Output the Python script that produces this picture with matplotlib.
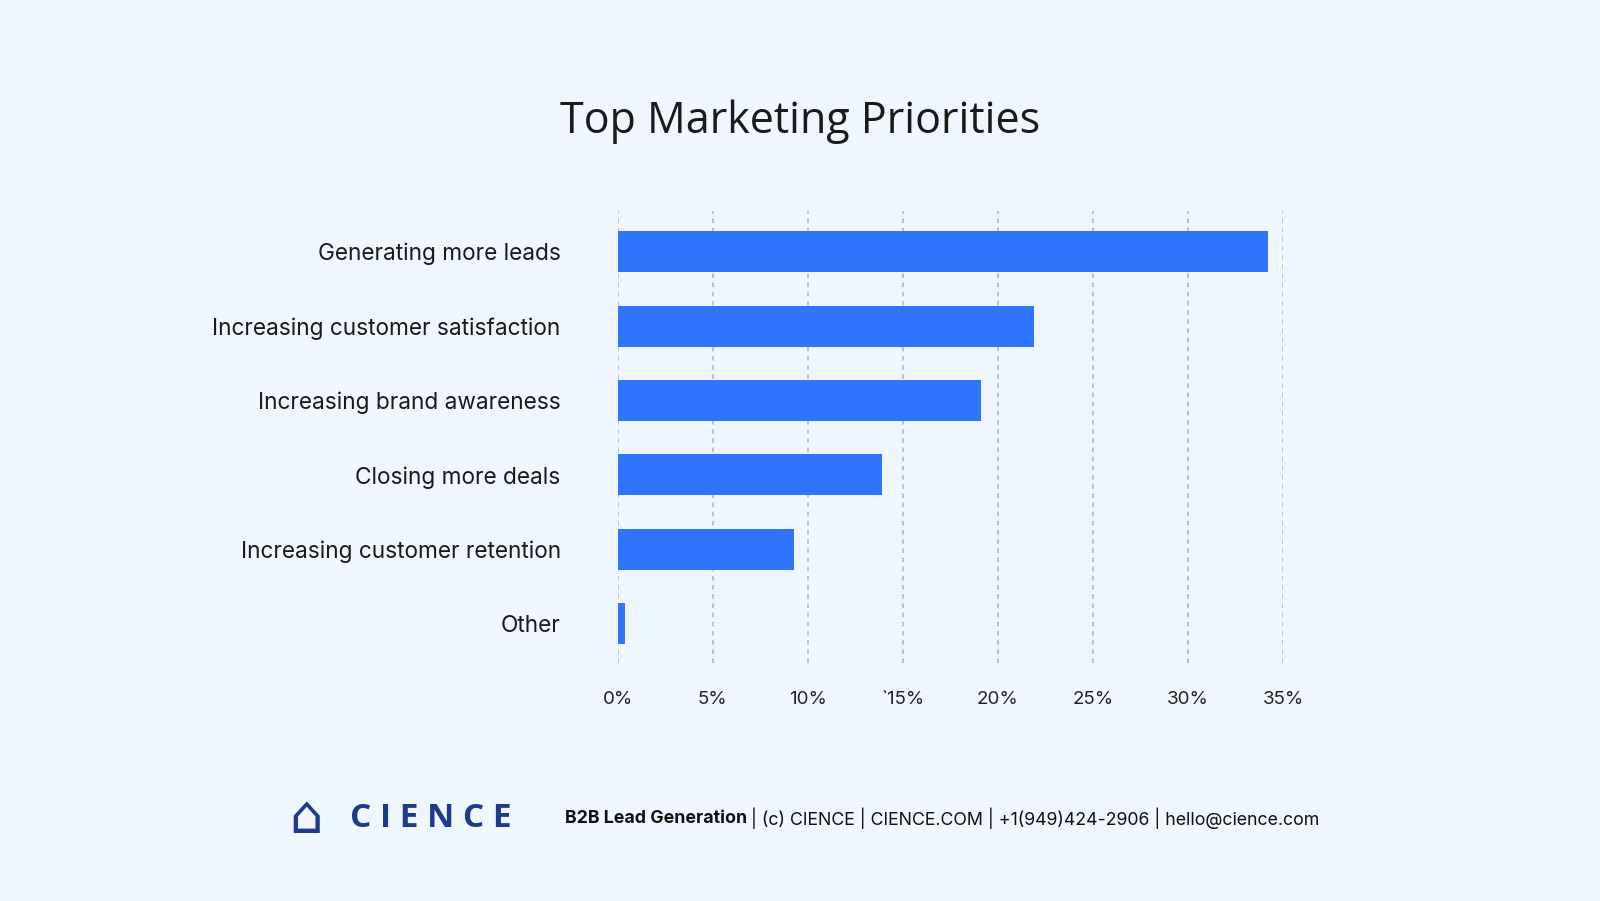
import matplotlib
matplotlib.use("Agg")
import matplotlib.pyplot as plt

categories = ["Generating more leads", "Increasing customer satisfaction", "Increasing brand awareness",
              "Closing more deals", "Increasing customer retention", "Other"]
values = [34.2, 21.9, 19.1, 13.9, 9.3, 0.4]
tick_vals = [0, 5, 10, 15, 20, 25, 30, 35]
tick_labels = ["0%", "5%", "10%", "`15%", "20%", "25%", "30%", "35%"]

bg = "#EFF6FE"
fig = plt.figure(figsize=(16, 9.01), dpi=100, facecolor=bg)
ax = fig.add_axes([0.386, 0.264, 0.416, 0.502], facecolor=bg)
y = list(range(len(categories)))
ax.barh(y, values, height=0.55, color="#2F76FC", zorder=3)
ax.set_ylim(len(categories) - 1 + 0.53, -0.55)
ax.set_xlim(0, 35)
ax.set_xticks(tick_vals)
ax.set_xticklabels(tick_labels, fontsize=13.5, color="#222222", family="Inter")
ax.set_yticks(y)
ax.set_yticklabels(categories, fontsize=16.3, color="#1a1a1a", family="Inter")
ax.tick_params(length=0, axis="y", pad=41)
ax.tick_params(length=0, axis="x", pad=20)
for t in tick_vals:
    ax.axvline(t, color="#9AB6DA", lw=1.1, ls=(0, (3, 3)), zorder=1)
for s in ax.spines.values():
    s.set_visible(False)

fig.text(0.5, 0.865, "Top Marketing Priorities", ha="center", va="center",
         fontsize=31, color="#1a1a1a", family="Open Sans")
fig.text(0.219, 0.092, "C I E N C E", ha="left", va="center", fontsize=24, fontweight="bold",
         color="#1E3A8A", family="Open Sans")
fig.text(0.191, 0.092, "⌂", ha="center", va="center", fontsize=38, color="#1E3A8A", family="DejaVu Sans")
fig.text(0.353, 0.092, "B2B Lead Generation", ha="left", va="center", fontsize=12.8,
         fontweight="bold", color="#111111", family="Inter")
fig.text(0.4665, 0.092, " | (c) CIENCE | CIENCE.COM | +1(949)424-2906 | hello@cience.com",
         ha="left", va="center", fontsize=12.8, color="#111111", family="Inter")
fig.savefig("out.png", dpi=100, facecolor=bg)
